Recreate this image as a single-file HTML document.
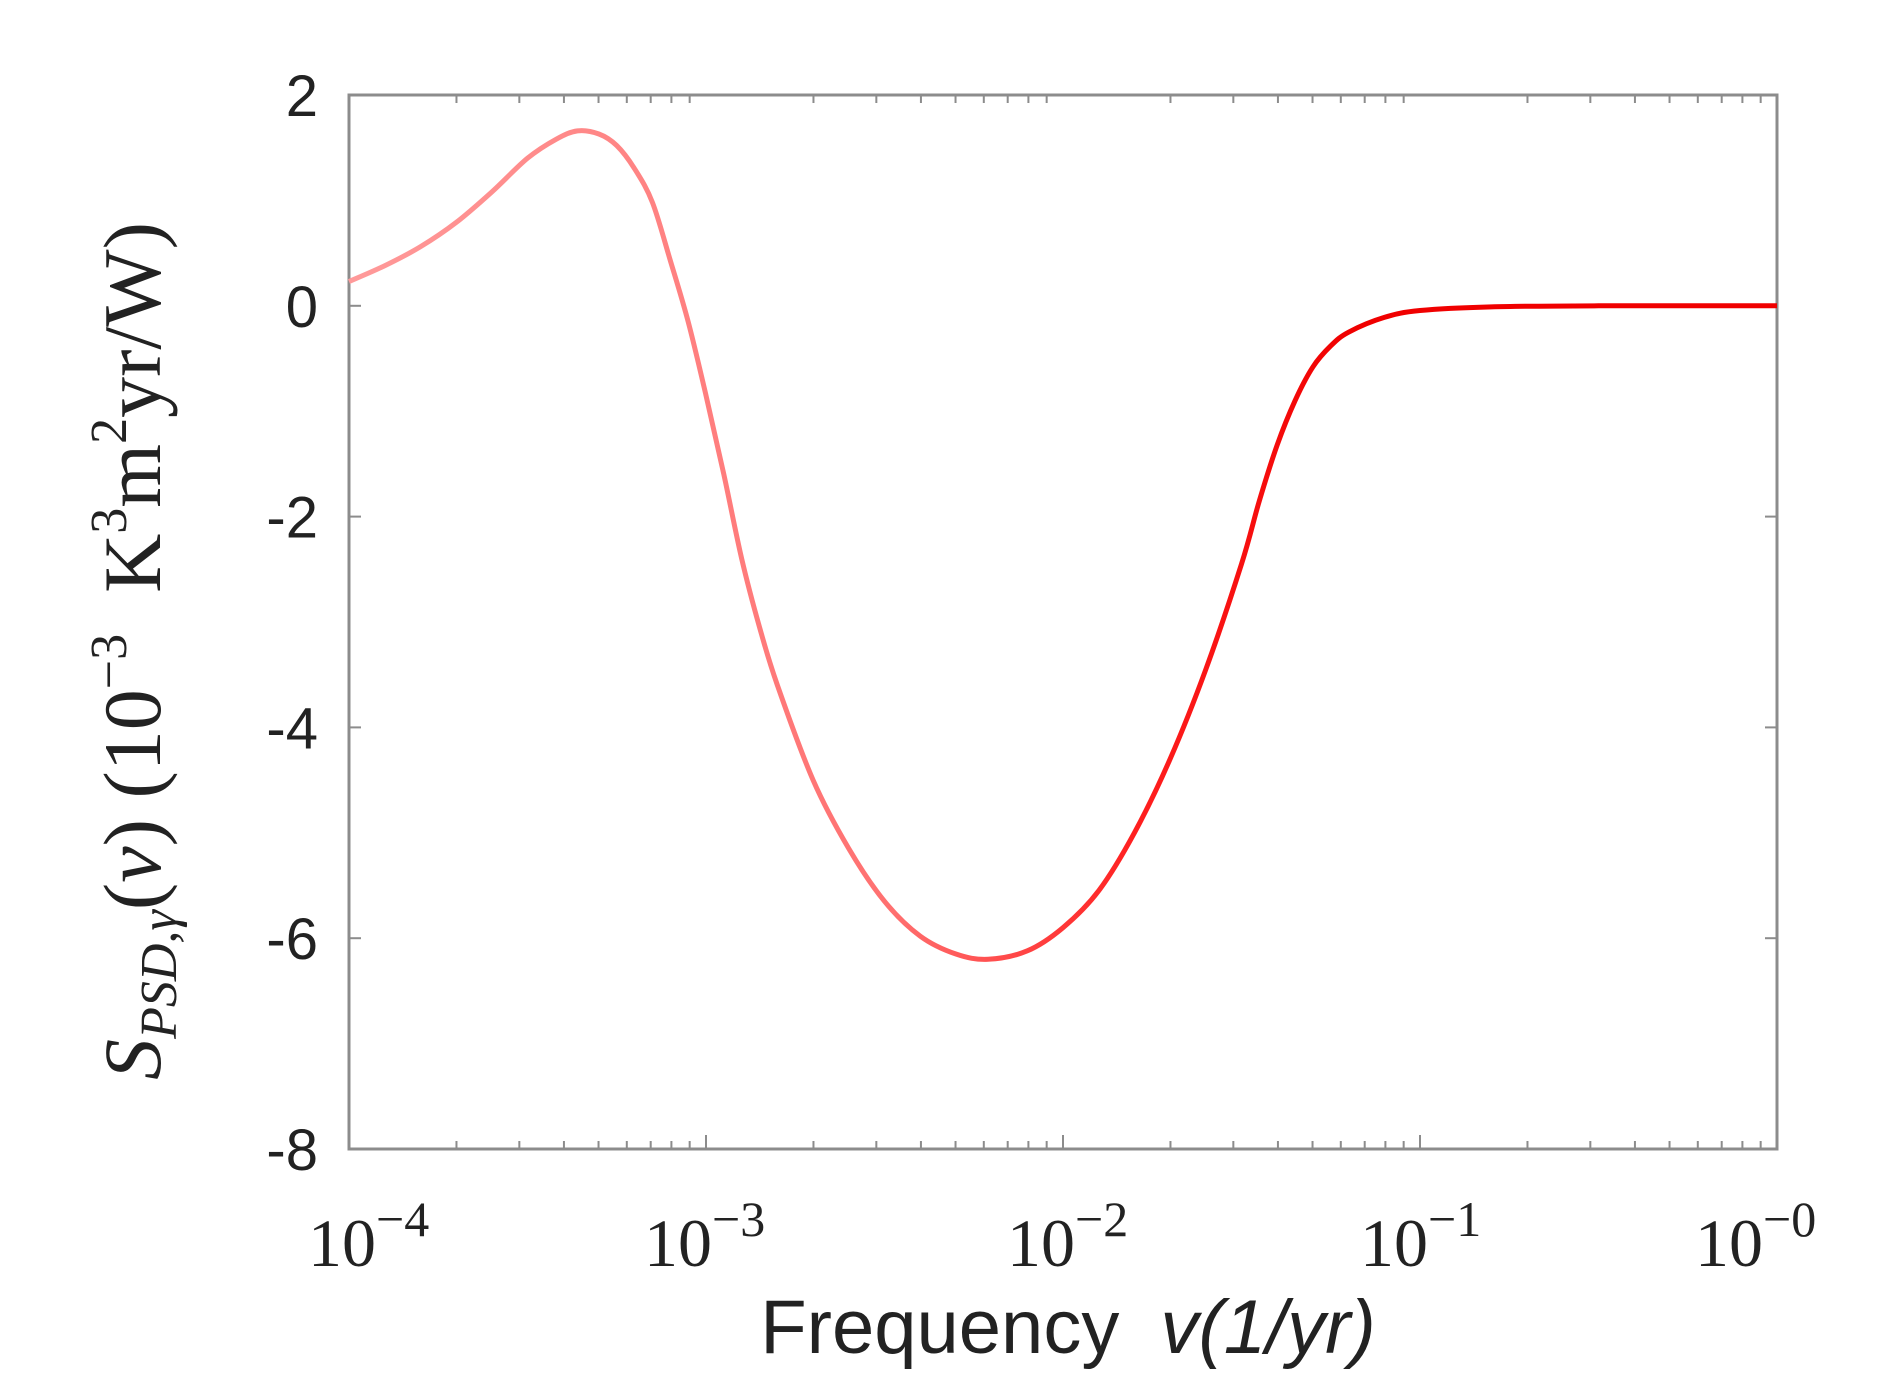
<!DOCTYPE html>
<html><head><meta charset="utf-8"><style>
html,body{margin:0;padding:0;background:#fff;}
svg{display:block;}
</style></head><body>
<svg id="chart" width="1882" height="1391" viewBox="0 0 1882 1391" xmlns="http://www.w3.org/2000/svg">
<defs>
<linearGradient id="lg" x1="349" y1="0" x2="1777" y2="0" gradientUnits="userSpaceOnUse">
<stop offset="0" stop-color="#ff9a9a"/><stop offset="0.38" stop-color="#ff7070"/><stop offset="0.55" stop-color="#ff2020"/><stop offset="0.7" stop-color="#f00000"/><stop offset="1" stop-color="#f00000"/>
</linearGradient>
</defs>
<g id="axes"></g>
<g id="series"></g>
<text x="1068" y="1353" text-anchor="middle" font-family="Liberation Sans, sans-serif" font-size="76" fill="#222">Frequency <tspan font-style="italic" dx="20">v(1/yr)</tspan></text>
<text transform="translate(160,651) rotate(-90)" text-anchor="middle" font-family="Liberation Serif, serif" font-size="82" fill="#222"><tspan font-style="italic">S</tspan><tspan font-style="italic" font-size="52" dy="16">PSD,γ</tspan><tspan dy="-16">(</tspan><tspan font-style="italic">ν</tspan><tspan>)  (10</tspan><tspan font-size="52" dy="-34">−3</tspan><tspan dy="34" xml:space="preserve">  K</tspan><tspan font-size="52" dy="-34">3</tspan><tspan dy="34">m</tspan><tspan font-size="52" dy="-34">2</tspan><tspan dy="34">yr/W)</tspan></text>
</svg>
<script>
const logFreqs = [-4,-3.9,-3.8,-3.7,-3.6,-3.5,-3.42,-3.36,-3.3,-3.25,-3.2,-3.15,-3.1,-3.05,-3.0,-2.95,-2.9,-2.85,-2.8,-2.7,-2.6,-2.5,-2.4,-2.3,-2.21,-2.1,-2.0,-1.9,-1.8,-1.7,-1.6,-1.5,-1.45,-1.4,-1.35,-1.3,-1.25,-1.2,-1.1,-1.0,-0.8,-0.5,0];
const values = [0.23,0.38,0.56,0.79,1.08,1.40,1.58,1.66,1.63,1.52,1.30,0.98,0.43,-0.15,-0.85,-1.6,-2.4,-3.05,-3.6,-4.5,-5.15,-5.65,-5.98,-6.15,-6.2,-6.12,-5.9,-5.55,-5.0,-4.3,-3.45,-2.45,-1.85,-1.32,-0.9,-0.58,-0.38,-0.25,-0.11,-0.045,-0.01,0,0];
const yTicks = [2,0,-2,-4,-6,-8];
const xDecades = [-4,-3,-2,-1,0];
const xTickLabels = ["−4","−3","−2","−1","−0"];
const labelLeft = [308,644,1007,1360,1695];

const L=349,R=1777,T=95,B=1149;
const xs = lf => L + (lf+4)/4*(R-L);
const ys = v => T + (2-v)/10*(B-T);
const NS="http://www.w3.org/2000/svg";
const axes=document.getElementById('axes');
function mk(tag,attrs,parent){const e=document.createElementNS(NS,tag);for(const k in attrs)e.setAttribute(k,attrs[k]);parent.appendChild(e);return e;}

const frame=mk('rect',{x:L,y:T,width:R-L,height:B-T,fill:'none',stroke:'#8c8c8c','stroke-width':3},axes);



yTicks.forEach(v=>{
  const y=ys(v);
  const t1=mk('line',{x1:L,x2:L+12,y1:y,y2:y,stroke:'#8c8c8c','stroke-width':2},axes);
  
  
  const t2=mk('line',{x1:R-12,x2:R,y1:y,y2:y,stroke:'#8c8c8c','stroke-width':2},axes);
  
  
  const tx=mk('text',{x:318,y:y+21,'text-anchor':'end','font-family':'Liberation Sans, sans-serif','font-size':58,fill:'#222'},axes);
  tx.textContent = v<0 ? '-'+Math.abs(v) : String(v);
  
  
});

xDecades.forEach((d,i)=>{
  const x=xs(d);
  if(d<0){
    for(let m=2;m<=9;m++){
      const xm=xs(d+Math.log10(m));
      const a=mk('line',{x1:xm,x2:xm,y1:B,y2:B-8,stroke:'#8c8c8c','stroke-width':2},axes);
      
      
      const b=mk('line',{x1:xm,x2:xm,y1:T,y2:T+8,stroke:'#8c8c8c','stroke-width':2},axes);
      
      
    }
  }
  const mj=mk('line',{x1:x,x2:x,y1:B,y2:B-14,stroke:'#8c8c8c','stroke-width':2},axes);
  
  
  const tx=mk('text',{x:labelLeft[i],y:1266,'font-family':'Liberation Serif, serif','font-size':68,fill:'#222'},axes);
  
  
  tx.innerHTML='10<tspan font-size="50" dy="-30">'+xTickLabels[i]+'</tspan>';
});

let d='';
logFreqs.forEach((f,i)=>{const x=xs(f),y=ys(values[i]);
  if(i===0){d+='M'+x+','+y;}
  else{const x0=xs(logFreqs[i-1]),y0=ys(values[i-1]);
    const xp=i>1?xs(logFreqs[i-2]):x0,yp=i>1?ys(values[i-2]):y0;
    const xn=i<logFreqs.length-1?xs(logFreqs[i+1]):x,yn=i<logFreqs.length-1?ys(values[i+1]):y;
    const c1x=x0+(x-xp)/6,c1y=y0+(y-yp)/6,c2x=x-(xn-x0)/6,c2y=y-(yn-y0)/6;
    d+=' C'+c1x+','+c1y+' '+c2x+','+c2y+' '+x+','+y;}
});
const line=mk('path',{d:d,fill:'none',stroke:'url(#lg)','stroke-width':5,'stroke-linejoin':'round'},document.getElementById('series'));


</script>
</body></html>
